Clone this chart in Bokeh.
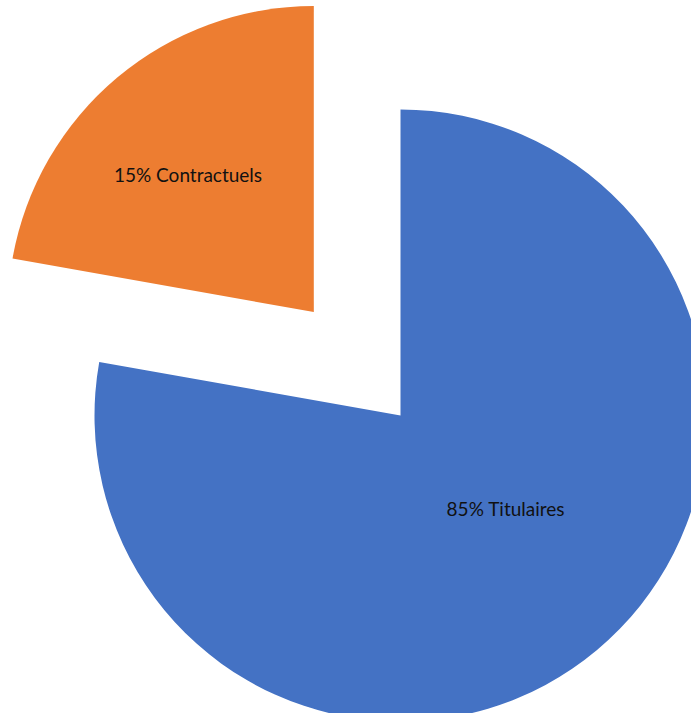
import math
from bokeh.plotting import figure
from bokeh.embed import file_html
from bokeh.resources import INLINE
from bokeh.core.properties import value

# Data (shares as drawn; labels as printed on the chart)
categories = ["Titulaires", "Contractuels"]
shares = [77.8, 22.2]
labels = ["85% Titulaires", "15% Contractuels"]
colors = ["#4472C4", "#ED7D31"]

# Style / layout parameters
W, H = 691, 713
cx, cy = 400, 298          # pie centre in plot units (pixels)
R = 306                    # radius
explode = [0, 135]         # explosion distance per slice
label_r = [0.46, 0.61]     # label radius factor
label_shift = [8.5, 2.4]   # label angle shift (deg)

p = figure(width=W, height=H, x_range=(0, W), y_range=(0, H),
           output_backend="svg", toolbar_location=None, min_border=0)
p.axis.visible = False
p.grid.visible = False
p.outline_line_color = None
p.background_fill_color = "white"
p.border_fill_color = "white"

cum = 0.0
for i, s in enumerate(shares):
    start = 90 - cum * 3.6
    end = 90 - (cum + s) * 3.6
    mid = math.radians((start + end) / 2)
    ox = cx + explode[i] * math.cos(mid)
    oy = cy + explode[i] * math.sin(mid)
    p.wedge(x=[ox], y=[oy], radius=R, start_angle=[math.radians(start)],
            end_angle=[math.radians(end)], direction="clock",
            fill_color=colors[i], line_color=None)
    la = mid + math.radians(label_shift[i])
    lx = ox + label_r[i] * R * math.cos(la)
    ly = oy + label_r[i] * R * math.sin(la)
    p.text(x=[lx], y=[ly], text=[labels[i]], text_align="center",
           text_baseline="middle", text_font=value("Lato"),
           text_font_size="19px", text_color="#111111")
    cum += s

open("out.html", "w").write(file_html(p, INLINE))
